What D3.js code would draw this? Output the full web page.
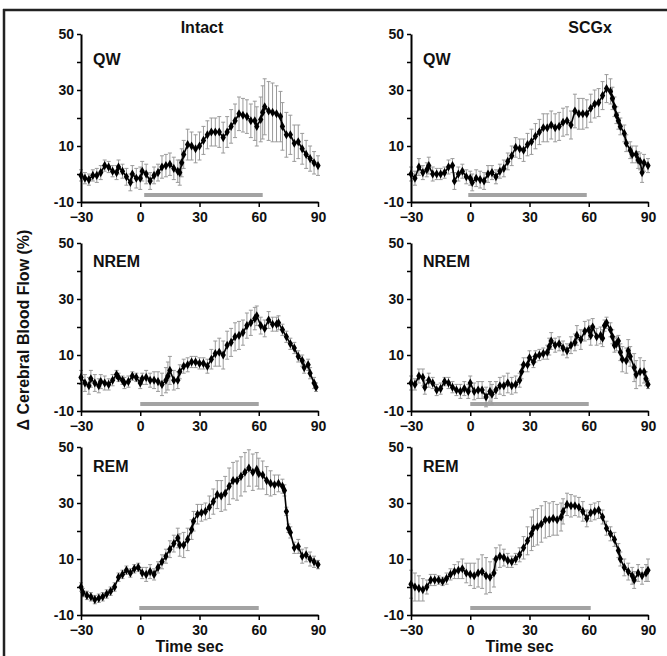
<!DOCTYPE html>
<html>
<head>
<meta charset="utf-8">
<script src="https://cdn.jsdelivr.net/npm/d3@7"></script>
<style>
body { margin: 0; background: #fff; }
text { font-family: "Liberation Sans", Arial, sans-serif; font-weight: bold; fill: #111; }
</style>
</head>
<body>
<script>
// Intact QW
var tA = [-30,-28,-26,-24,-22,-20,-18,-16,-14,-12,-11,-9,-7,-5,-4,-2,0,1,3,5,7,9,11,13,15,17,19,20,21,22,24,26,28,30,32,34,36,38,40,42,44,46,48,50,52,54,56,58,59,61,62,63,65,67,69,71,72,74,76,78,80,82,84,86,88,90];
var mA = [-0.5,-1.5,-2,-0.5,-0.5,0.5,3,2.5,1,0.5,2.5,1,-1,-3,0,-1.5,-1.5,1,0,-2.5,-0.5,0.5,2.5,3,3.5,2,1,0.5,4,7,10.5,10,9,10,12,14,15,15,15,13,15,17,19,21.5,21,20.5,19,19,17,19.5,22,24,22.5,22,21.5,20.5,17,14,14,11,11.5,9,7,5.5,4,3];
var eA = [2,2,2,2,2.5,2.5,2,2,2,2.5,2.5,2.5,3,3,3,3.5,4,3.5,3.5,3,3,3,4,4,4,4,4,4.5,5,5,5.5,5,5,5,5,5,5,5,5.5,5.5,5.5,6,6,6,6,6,6,7,7,8,9.5,10,10.5,10.5,10,9,8.5,8,7,6.5,6,5.5,5,4.5,4,3.5];
// SCGx QW
var tB = [-30,-28,-26,-24,-22,-21,-19,-17,-15,-13,-11,-9,-8,-6,-4,-2,0,1,3,5,7,9,11,13,15,17,19,21,23,25,27,29,31,33,35,37,39,41,43,45,47,49,51,53,55,57,59,61,63,65,67,69,71,72,73,74,75,76,78,79,81,82,84,85,86,87,88,90];
var mB = [0,-1.5,2.5,0.5,1.5,3,0,0,0,0.5,2.5,3,-2.5,0,1,-1,-1.5,-3,-1.5,-2,-2.5,0,0.5,-1,1,2,4.5,6.5,9.5,9,8.5,10.5,11.5,13.5,15,16.5,16.5,17.5,16.5,17,18.5,19,17.5,22.5,21.5,21.5,21.5,23.5,25,25.5,28,30.5,29.5,27,24,21,19,17,14.5,11,8.5,7,7,5,4.5,0.5,4,3];
var eB = [2.5,2.5,3,2.5,2.5,3,2.5,2,2,2,2.5,2.5,3,2.5,2.5,2.5,2.5,3,3,3,3,3,2.5,2.5,2.5,3,3,3.5,3.5,3.5,4,4,4.5,4.5,4.5,5,5,5,5,5,5,5,5,6,5.5,5.5,5,5,5,5,5,5,4.5,4,3.5,3,3,3,3,3,3,3,3,3,3,3.5,3,2.5];
// Intact NREM
var tC = [-30,-28,-26,-25,-23,-21,-20,-18,-16,-14,-12,-11,-9,-8,-6,-4,-2,0,1,3,5,7,9,11,13,14,15,17,19,20,22,24,26,28,30,32,34,36,38,40,42,44,46,48,50,52,54,56,58,59,61,63,65,67,69,70,72,74,76,78,80,82,83,85,86,88,89];
var mC = [2,0,-1,1.5,0,-1,0.5,0,-0.5,1,3,2,1,0,0.5,2.5,2,0,1.5,2,1,1,0.5,-0.5,1,2.5,4.5,1,1,4,6,6.5,7.5,7.5,7,7,6,8.5,10.5,11,10,13.5,14.5,16.5,17,18,20.5,21.5,23,24,20.5,19.5,22.5,21,21,21.5,19,16.5,14,12.5,9.5,8,5.5,6.5,3.5,0,-1.5];
var eC = [2.5,3,3,3,3,2.5,2.5,2.5,2,2,1.5,1.5,1.5,2,2,1.5,1.5,2,2,2.5,2.5,3,3.5,4,4.5,5,5,3.5,3,2.5,2.5,2.5,2,2,2,2,2.5,3.5,4.5,5,5,5,5,5,5,4.5,4.5,4.5,4,3.5,3,3,3,2.5,2.5,2.5,2,2,2,2,2,2,2,2,2,2,1.5];
// SCGx NREM
var tD = [-30,-28,-26,-24,-23,-21,-19,-17,-15,-13,-11,-9,-7,-5,-3,-1,0,2,4,6,8,10,11,13,15,17,19,21,23,25,26,27,29,30,32,33,35,37,39,40,41,43,45,47,49,51,53,54,56,58,60,61,62,64,66,67,68,69,71,72,73,74,75,76,77,79,80,81,83,84,86,88,89,90];
var mD = [0,-0.5,2.5,2,-1.5,1,0,-2.5,-2,0.5,0,-1.5,-2.5,-3,-2,-3,0,-3,-2.5,-2.5,-5,-3,-4,-2.5,-1,-1,0,-1,-0.5,1,4,6.5,6.5,9,7.5,9.5,10,10.5,11,13,15,13.5,14,12.5,11.5,13.5,14.5,17,15.5,18.5,19,17,20,16.5,17,16,20.5,21.5,19,16.5,13.5,14,15,11,8.5,8,11.5,9.5,5.5,3,4,4,1.5,-0.5];
var eD = [2.5,2,2.5,3,2.5,2.5,2,2,2,1.5,2,2,2,2.5,2.5,2.5,2.5,3,3,3,3.5,3.5,3.5,3,3,3.5,3.5,3,3,2.5,2.5,2.5,2.5,2.5,2,2,2,2,2.5,3,3,2.5,2.5,2.5,2.5,3,3,3.5,3.5,3.5,3.5,3.5,3,3,3,3,2,2,2.5,2.5,2.5,2.5,2,3,4.5,4.5,4,3.5,5,5,5,4,2.5,1.5];
// Intact REM
var tE = [-30,-29,-27,-25,-23,-21,-19,-17,-15,-13,-11,-9,-7,-5,-3,-1,1,3,5,7,9,11,13,15,17,19,20,22,24,26,27,29,31,33,35,37,39,41,43,45,47,49,51,53,55,57,59,60,62,64,66,68,70,72,73,74,75,76,78,80,82,84,86,88,90];
var mE = [0,-2,-3,-3.5,-4.5,-4,-3.5,-2.5,-1.5,0,3.5,4.5,6,5,6.5,7,5,4.5,5.5,4.5,7,9,11,13.5,15.5,17.5,15,15,17,20.5,23.5,26,26.5,27,28.5,30.5,33,32.5,33.5,36,38,38,39.5,41,42.5,41,42,40.5,40,38,37,36.5,37,36,34.5,27,21,19.5,14,14.5,11,11.5,10,9,8];
var eE = [1.5,1.5,1.5,1.5,1.5,1.5,1.5,1.5,1.5,1.5,1.5,1.5,1.5,1.5,1.5,1.5,2,2.5,2.5,2,2,2.5,2.5,3,3,3.5,4,4.5,4,3.5,3.5,3.5,3,3,4,4.5,5,5.5,6,6.5,6.5,7,7,7,6.5,6.5,6,5.5,5,5,4.5,3.5,3,2.5,2,1.5,1.5,2,2,2.5,2.5,2.5,2.5,2,1.5];
// SCGx REM
var tF = [-30,-28,-26,-24,-22,-20,-18,-16,-14,-12,-10,-8,-6,-4,-2,0,2,4,6,8,10,12,13,15,17,19,21,23,25,27,29,31,32,34,36,38,40,42,44,46,47,49,51,53,55,57,59,61,63,65,67,69,71,73,75,76,78,80,82,83,85,87,89,90];
var mF = [1,0,-0.5,-1,0,2.5,2.5,2.5,2,3,4.5,5.5,6,6.5,5,4.5,4,5,5.5,4,3.5,5,10,11,10.5,9.5,9,10,11.5,14,16.5,19,21,21.5,22.5,24,24,24.5,24,25,27,29.5,29,29,28.5,27,24.5,26.5,27,27.5,25,21,19,17,13,10,7,5.5,4,2.5,5,4,5,6];
var eF = [5,5,4.5,4,2.5,2,2,1.5,1.5,2,2,2.5,3,3.5,3.5,4,4.5,5,6,6.5,5.5,5,4,4,3,2.5,2,2,2.5,4,5,6,6.5,6.5,6.5,6.5,6,6,5.5,5,4.5,4,4,3.5,3.5,3.5,3,3,3,3,2.5,2.5,2.5,2.5,2.5,2.5,3,3,3,3,3,3,3,4];

// stimulus bars (start, end in sec)
var barA = [2, 62], barB = [-1, 59], barC = [0, 60], barD = [0, 60], barE = [-0.5, 60], barF = [0, 61];
var barLevel = -7.5;

var stateLabels = ["QW", "NREM", "REM"];
var groupTitles = ["Intact", "SCGx"];
var xTicks = [-30, 0, 30, 60, 90];
var yTicks = [-10, 0, 10, 20, 30, 40, 50];
var yLabeled = [-10, 10, 30, 50];

var panels = [
  {t: tA, m: mA, e: eA, bar: barA, row: 0, col: 0},
  {t: tB, m: mB, e: eB, bar: barB, row: 0, col: 1},
  {t: tC, m: mC, e: eC, bar: barC, row: 1, col: 0},
  {t: tD, m: mD, e: eD, bar: barD, row: 1, col: 1},
  {t: tE, m: mE, e: eE, bar: barE, row: 2, col: 0},
  {t: tF, m: mF, e: eF, bar: barF, row: 2, col: 1}
];

var W = 667, H = 656;
var colX = [81, 411], rowY = [34, 243, 447];
var pw = 237, ph = 168;
var labelDy = [31, 24, 25];

var svg = d3.select("body").append("svg")
    .attr("width", W)
    .attr("height", H);

// frame (top and left only)
svg.append("line").attr("x1", 3).attr("x2", W).attr("y1", 10).attr("y2", 10)
    .attr("stroke", "#222").attr("stroke-width", 2.5);
svg.append("line").attr("x1", 4).attr("x2", 4).attr("y1", 9).attr("y2", H)
    .attr("stroke", "#222").attr("stroke-width", 2.5);

var x = d3.scaleLinear().domain([-30, 90]).range([0, pw]);
var y = d3.scaleLinear().domain([-10, 50]).range([ph, 0]);

panels.forEach(function(p) {
  var g = svg.append("g")
      .attr("transform", "translate(" + colX[p.col] + "," + rowY[p.row] + ")");

  var pts = p.t.map(function(t, i) { return {t: t, m: p.m[i], e: p.e[i]}; });

  // stimulus bar
  g.append("line")
      .attr("x1", x(p.bar[0])).attr("x2", x(p.bar[1]))
      .attr("y1", y(barLevel)).attr("y2", y(barLevel))
      .attr("stroke", "#a3a3a3").attr("stroke-width", 4);

  // error bars
  var eb = g.append("g").attr("stroke", "#9a9a9a").attr("stroke-width", 1);
  eb.selectAll("line.v").data(pts).enter().append("line")
      .attr("x1", function(d) { return x(d.t); })
      .attr("x2", function(d) { return x(d.t); })
      .attr("y1", function(d) { return y(d.m - d.e); })
      .attr("y2", function(d) { return y(d.m + d.e); });
  eb.selectAll("line.top").data(pts).enter().append("line")
      .attr("x1", function(d) { return x(d.t) - 2; })
      .attr("x2", function(d) { return x(d.t) + 2; })
      .attr("y1", function(d) { return y(d.m + d.e); })
      .attr("y2", function(d) { return y(d.m + d.e); });
  eb.selectAll("line.bot").data(pts).enter().append("line")
      .attr("x1", function(d) { return x(d.t) - 2; })
      .attr("x2", function(d) { return x(d.t) + 2; })
      .attr("y1", function(d) { return y(d.m - d.e); })
      .attr("y2", function(d) { return y(d.m - d.e); });

  // mean line + markers
  g.append("path").datum(pts)
      .attr("fill", "none").attr("stroke", "#000").attr("stroke-width", 1.6)
      .attr("d", d3.line().x(function(d) { return x(d.t); }).y(function(d) { return y(d.m); }));
  g.selectAll("path.pt").data(pts).enter().append("path")
      .attr("class", "pt")
      .attr("transform", function(d) { return "translate(" + x(d.t) + "," + y(d.m) + ")"; })
      .attr("d", d3.symbol().type(d3.symbolDiamond).size(24))
      .attr("fill", "#000");

  // axes
  var xa = g.append("g").attr("transform", "translate(0," + ph + ")")
      .call(d3.axisBottom(x).tickValues(xTicks).tickSize(5).tickSizeOuter(0).tickPadding(5));
  var ya = g.append("g")
      .call(d3.axisLeft(y).tickValues(yTicks).tickSize(4).tickSizeOuter(0).tickPadding(3)
        .tickFormat(function(d) { return yLabeled.indexOf(d) >= 0 ? d : ""; }));
  [xa, ya].forEach(function(a) {
    a.select(".domain").attr("stroke", "#000").attr("stroke-width", 2);
    a.selectAll(".tick line").attr("stroke", "#000").attr("stroke-width", 1.5);
    a.selectAll("text").style("font-size", "14px").attr("fill", "#111");
  });

  g.append("text")
      .attr("x", 12).attr("y", labelDy[p.row])
      .style("font-size", "16px")
      .text(stateLabels[p.row]);

  if (p.row === 2) {
    g.append("text")
        .attr("x", pw / 2 - 10).attr("y", 652 - rowY[2])
        .attr("text-anchor", "middle")
        .style("font-size", "16px")
        .text("Time sec");
  }
});

// column titles
svg.append("text").attr("x", 202).attr("y", 33).attr("text-anchor", "middle")
    .style("font-size", "16px").text(groupTitles[0]);
svg.append("text").attr("x", 590).attr("y", 33).attr("text-anchor", "middle")
    .style("font-size", "16px").text(groupTitles[1]);

// y label
svg.append("text")
    .attr("transform", "translate(29,330) rotate(-90)")
    .attr("text-anchor", "middle")
    .style("font-size", "16px")
    .text("\u0394 Cerebral Blood Flow (%)");
</script>
</body>
</html>
